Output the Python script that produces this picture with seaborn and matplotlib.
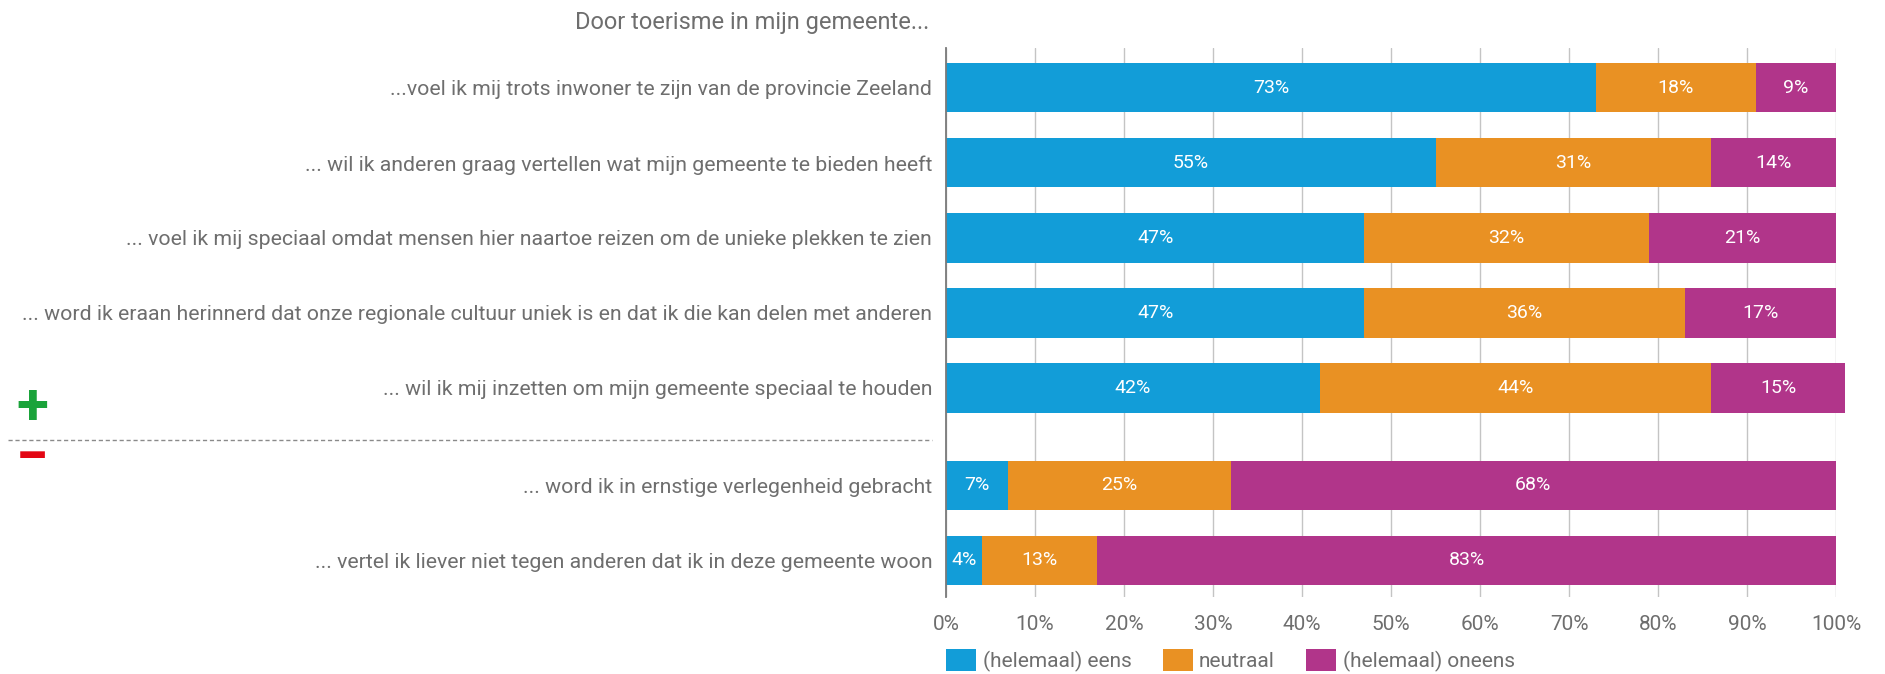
import numpy as np
import pandas as pd
import matplotlib
matplotlib.use("Agg")
import matplotlib.pyplot as plt
from matplotlib.patches import Patch
from matplotlib.lines import Line2D
import seaborn as sns

# data
statements = [
    "...voel ik mij trots inwoner te zijn van de provincie Zeeland",
    "... wil ik anderen graag vertellen wat mijn gemeente te bieden heeft",
    "... voel ik mij speciaal omdat mensen hier naartoe reizen om de unieke plekken te zien",
    "... word ik eraan herinnerd dat onze regionale cultuur uniek is en dat ik die kan delen met anderen",
    "... wil ik mij inzetten om mijn gemeente speciaal te houden",
    "... word ik in ernstige verlegenheid gebracht",
    "... vertel ik liever niet tegen anderen dat ik in deze gemeente woon",
]
eens = [73, 55, 47, 47, 42, 7, 4]
neutraal = [18, 31, 32, 36, 44, 25, 13]
oneens = [9, 14, 21, 17, 15, 68, 83]
series_names = ["(helemaal) eens", "neutraal", "(helemaal) oneens"]
title = "Door toerisme in mijn gemeente..."

colors = ["#129dd8", "#e99123", "#b1358a"]
grey = "#6e6e6e"

sns.set_style("white")
plt.rcParams["font.family"] = ["Roboto", "DejaVu Sans"]

pos = [0, 1, 2, 3, 4, 5.3, 6.3]
df = pd.DataFrame({"stelling": statements, "pos": pos,
                   "eens": eens, "neutraal": neutraal, "oneens": oneens})
df["c1"] = df["eens"]
df["c2"] = df["eens"] + df["neutraal"]
df["c3"] = df["c2"] + df["oneens"]

fig = plt.figure(figsize=(18.85, 6.74), dpi=100)
ax = fig.add_axes([0.5019, 0.1142, 0.9740 - 0.5019, 0.9288 - 0.1142])

# stacked bars by overlaying cumulative totals
for col, c in zip(["c3", "c2", "c1"], colors[::-1]):
    sns.barplot(data=df, x=col, y="pos", orient="h", native_scale=True,
                color=c, width=0.66, errorbar=None, saturation=1,
                linewidth=0, ax=ax)
for p in ax.patches:
    p.set_clip_on(False)

for _, r in df.iterrows():
    starts = [0, r["c1"], r["c2"]]
    for s, v in zip(starts, [r["eens"], r["neutraal"], r["oneens"]]):
        ax.text(s + v / 2, r["pos"], f"{v}%", ha="center", va="center",
                color="white", fontsize=14)

ax.set_xlim(0, 100)
ax.set_ylim(6.79, -0.53)
ax.set_xticks(np.arange(0, 101, 10))
ax.set_xticklabels([f"{t}%" for t in range(0, 101, 10)], fontsize=15, color=grey)
ax.set_yticks(pos)
ax.set_yticklabels(statements, fontsize=15.3, color=grey)
ax.tick_params(axis="both", length=0)
ax.tick_params(axis="y", pad=10)
ax.tick_params(axis="x", pad=13)
ax.set_xlabel("")
ax.set_ylabel("")
ax.xaxis.grid(True, color="#c4c4c4", linewidth=1)
ax.yaxis.grid(False)
ax.set_axisbelow(True)
for s in ["top", "right", "bottom"]:
    ax.spines[s].set_visible(False)
ax.spines["left"].set_color("#7a7a7a")
ax.spines["left"].set_linewidth(1.3)

handles = [Patch(facecolor=c, edgecolor="none") for c in colors]
ax.legend(handles, series_names, loc="upper left", bbox_to_anchor=(0.0, -0.095),
          ncol=3, frameon=False, fontsize=15, labelcolor=grey,
          handlelength=1.45, handleheight=1.2, handletextpad=0.3,
          columnspacing=1.5, borderaxespad=0, borderpad=0)

fig.text(929 / 1885, 1 - 22 / 674, title, ha="right", va="center",
         fontsize=17, color=grey)

# plus / minus separator on the left
fig.add_artist(Line2D([8 / 1885, 932 / 1885], [1 - 440 / 674] * 2,
                      color="#8a8a8a", linewidth=1, linestyle=(0, (3, 2))))
fig.text(32 / 1885, 1 - 408 / 674, "+", ha="center", va="center",
         fontsize=42, fontweight="bold", color="#1aa33a")
fig.text(32 / 1885, 1 - 460 / 674, "\u2212", ha="center", va="center",
         fontsize=42, fontweight="bold", color="#e30613")

fig.savefig("out.png", dpi=100)
